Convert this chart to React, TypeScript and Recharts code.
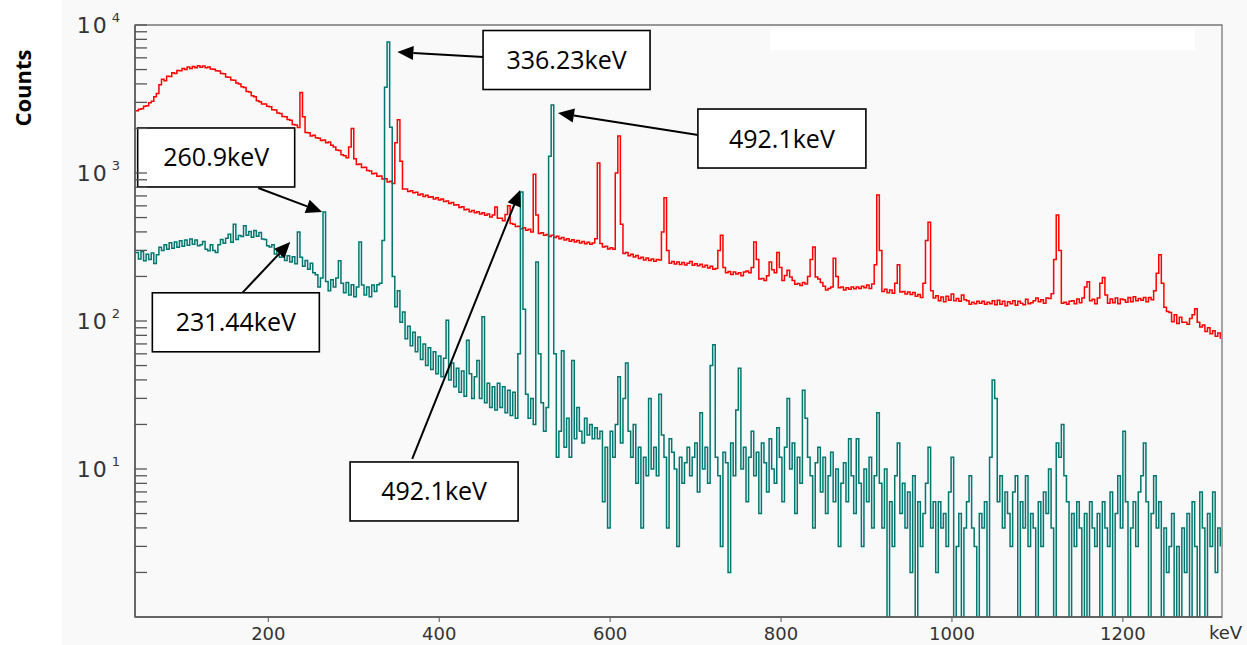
import { LineChart, Line, XAxis, YAxis, ReferenceArea, ReferenceLine, ReferenceDot } from 'recharts';

// channel calibration: first channel energy and width (keV)
const KEV_START = 45;
const KEV_STEP = 3;

// red spectrum, counts per channel
const redCounts = [
  2630, 2700, 2720, 2820, 2850, 2980, 3050, 3280, 3450, 3950,
  4300, 4200, 4500, 4480, 4750, 4700, 4920, 4900, 5080, 5000,
  5200, 5080, 5250, 5150, 5300, 5180, 5280, 5150, 5200, 5050,
  5020, 4900, 4880, 4700, 4680, 4450, 4430, 4250, 4230, 4050,
  4000, 3820, 3780, 3560, 3530, 3320, 3280, 3080, 3030, 2920,
  2930, 2820, 2800, 2680, 2670, 2540, 2520, 2410, 2400, 2300,
  2270, 2130, 2110, 2030, 3500, 2400, 1880, 1870, 1780, 1800,
  1730, 1720, 1660, 1670, 1600, 1620, 1540, 1500, 1430, 1420,
  1330, 1310, 1270, 1500, 2000, 1250, 1140, 1150, 1090, 1095,
  1040, 1030, 990, 995, 950, 955, 910, 915, 870, 880,
  850, 1600, 2290, 1200, 780, 780, 750, 760, 735, 740,
  710, 720, 695, 708, 685, 690, 668, 680, 658, 668,
  642, 648, 622, 632, 608, 610, 585, 592, 565, 570,
  548, 558, 538, 548, 528, 538, 518, 528, 505, 520,
  590, 495, 495, 475, 525, 600, 455, 450, 435, 436,
  420, 426, 410, 416, 400, 980, 520, 390, 395, 380,
  384, 372, 380, 366, 374, 360, 366, 352, 360, 346,
  354, 342, 350, 337, 345, 333, 340, 330, 336, 360,
  1170, 334, 316, 320, 306, 313, 305, 1000, 1780, 450,
  286, 290, 276, 283, 271, 277, 264, 270, 258, 266,
  256, 262, 253, 260, 258, 400, 680, 300, 246, 252,
  243, 250, 241, 248, 239, 246, 252, 238, 244, 236,
  242, 232, 238, 228, 234, 224, 226, 300, 380, 230,
  212, 216, 206, 214, 208, 212, 202, 214, 218, 212,
  230, 342, 260, 192, 194, 188, 202, 250, 222, 212,
  290, 230, 188, 203, 220, 198, 188, 177, 179, 174,
  182, 178, 200, 260, 316, 198, 192, 182, 172, 162,
  166, 170, 265, 200, 168, 170, 162, 168, 164, 170,
  165, 170, 166, 172, 168, 175, 166, 178, 240, 710,
  300, 158, 164, 155, 162, 154, 180, 240, 157, 158,
  152, 157, 151, 156, 147, 151, 144, 180, 350, 465,
  160, 143, 148, 137, 145, 135, 147, 138, 152, 137,
  142, 136, 150, 139, 137, 130, 134, 131, 136, 132,
  136, 130, 134, 131, 137, 129, 138, 130, 136, 127,
  135, 131, 137, 128, 136, 132, 129, 140, 131, 133,
  137, 143, 135, 139, 132, 143, 142, 153, 260, 520,
  300, 132, 134, 130, 136, 137, 131, 141, 133, 143,
  170, 184, 137, 140, 131, 143, 180, 197, 150, 132,
  141, 133, 143, 131, 141, 139, 134, 144, 135, 146,
  137, 142, 138, 144, 135, 144, 139, 160, 210, 280,
  180, 124, 116, 114, 99, 110, 96, 106, 98, 98,
  95, 104, 110, 121, 98, 91, 94, 85, 90, 82,
  86, 79, 83, 76,
];

// teal spectrum, counts per channel (0 = empty channel)
const tealCounts = [
  290, 262, 295, 255, 282, 260, 288, 245, 280, 315,
  300, 328, 305, 338, 310, 342, 315, 348, 320, 352,
  325, 358, 330, 352, 322, 328, 345, 305, 298, 328,
  300, 290, 328, 355, 335, 362, 385, 340, 450, 355,
  378, 372, 440, 380, 402, 368, 408, 374, 396, 358,
  356, 322, 316, 328, 284, 306, 270, 292, 256, 276,
  250, 272, 244, 400, 270, 234, 256, 224, 246, 212,
  205, 170, 195, 545, 185, 160, 190, 170, 195, 255,
  180, 155, 182, 150, 176, 146, 170, 342, 175, 150,
  170, 146, 175, 158, 176, 180, 350, 3800, 7680, 2040,
  200, 125, 160, 98, 115, 76, 92, 68, 84, 62,
  78, 55, 70, 50, 66, 47, 62, 44, 58, 42,
  56, 101, 40, 52, 36, 48, 33, 46, 31, 74,
  44, 30, 42, 54, 30, 107, 28, 38, 26, 36,
  25, 38, 26, 36, 24, 34, 23, 33, 22, 60,
  745, 120, 32, 22, 30, 20, 250, 60, 28, 18,
  26, 1300, 2880, 60, 12, 18, 63, 14, 22, 12,
  54, 16, 26, 18, 15, 22, 17, 20, 16, 19,
  16, 18, 6, 14, 4, 18, 12, 20, 42, 15,
  30, 52, 18, 12, 20, 8, 14, 4, 12, 9,
  30, 10, 14, 9, 32, 17, 12, 4, 16, 13,
  10, 3, 12, 8, 11, 14, 9, 12, 15, 7,
  24, 10, 14, 8, 50, 69, 12, 9, 3, 13,
  11, 2, 15, 9, 25, 48, 10, 14, 6, 12,
  18, 9, 13, 5, 15, 11, 7, 16, 10, 8,
  19, 12, 6, 14, 30, 10, 15, 5, 12, 8,
  34, 22, 12, 9, 4, 11, 14, 7, 12, 5,
  9, 13, 6, 10, 3, 8, 11, 6, 16, 9,
  5, 16, 8, 3, 10, 6, 12, 4, 9, 24,
  8, 4, 10, 0, 6, 3, 9, 15, 5, 8,
  4, 7, 2, 9, 0, 6, 3, 5, 8, 14,
  4, 6, 2, 6, 4, 5, 3, 7, 12, 0,
  3, 5, 0, 4, 6, 9, 4, 3, 0, 5,
  4, 6, 0, 12, 40, 30, 6, 9, 4, 7,
  5, 3, 7, 9, 0, 6, 4, 9, 3, 5,
  4, 0, 6, 3, 7, 5, 10, 4, 0, 15,
  12, 20, 9, 6, 0, 5, 3, 6, 4, 0,
  5, 0, 6, 4, 3, 5, 0, 6, 4, 3,
  7, 0, 5, 9, 4, 18, 6, 0, 4, 6,
  3, 7, 9, 15, 6, 0, 5, 9, 4, 6,
  0, 4, 2, 3, 5, 0, 3, 0, 4, 2,
  5, 0, 6, 3, 0, 7, 4, 0, 5, 3,
  7, 2, 4, 3,
];

const xTicks = [200, 400, 600, 800, 1000, 1200];
const yTicks = [
  2, 3, 4, 5, 6, 7, 8, 9, 10,
  20, 30, 40, 50, 60, 70, 80, 90, 100,
  200, 300, 400, 500, 600, 700, 800, 900, 1000,
  2000, 3000, 4000, 5000, 6000, 7000, 8000, 9000, 10000,
];

// callouts: text, box centre (keV, counts), arrow tail and tip (keV, counts)
const calloutText = ['336.23keV', '492.1keV', '260.9keV', '231.44keV', '492.1keV'];
const calloutKeV = [549, 801, 139, 162, 394];
const calloutCounts = [5800, 1710, 1273, 98, 7.05];
const tailKeV = [451.5, 703, 188.3, 169.6, 368.4];
const tailCounts = [6080, 1806, 792, 155, 11.7];
const tipKeV = [351, 539, 263, 225.7, 494.7];
const tipCounts = [6570, 2543, 545, 342, 767];
const boxW = [167, 168, 157, 167, 168];

// log axis cannot show empty channels, push them below the axis floor
const data = redCounts.map((r, i) => ({
  kev: KEV_START + i * KEV_STEP,
  red: r,
  teal: tealCounts[i] > 0 ? tealCounts[i] : 0.5,
}));

const AXIS = '#555';
const TEXT = '#333';

function YTick({ x, y, payload }: any) {
  const v = payload.value;
  const exp = Math.round(Math.log10(v));
  const major = Math.abs(Math.pow(10, exp) - v) < 1e-6;
  return (
    <g>
      <line x1={x} y1={y} x2={x + 12} y2={y} stroke={AXIS} strokeWidth={1.3} />
      {major && (
        <text x={x - 13} y={y + 8} textAnchor="end" fill={TEXT} fontSize={22} fontFamily="DejaVu Sans" letterSpacing={2}>
          10<tspan dx={3} dy={-11} fontSize={13}>{exp}</tspan>
        </text>
      )}
    </g>
  );
}

function XTick({ x, y, payload }: any) {
  return (
    <text x={x} y={y + 18} textAnchor="middle" fill={TEXT} fontSize={18} fontFamily="DejaVu Sans">
      {payload.value}
    </text>
  );
}

function Arrow(p: any) {
  const { x1, y1, x2, y2 } = p;
  const dx = x2 - x1;
  const dy = y2 - y1;
  const len = Math.hypot(dx, dy) || 1;
  const ux = dx / len;
  const uy = dy / len;
  const bx = x2 - ux * 16;
  const by = y2 - uy * 16;
  return (
    <g>
      <line x1={x1} y1={y1} x2={bx} y2={by} stroke="#000" strokeWidth={2} />
      <polygon
        points={`${x2},${y2} ${bx - uy * 7},${by + ux * 7} ${bx + uy * 7},${by - ux * 7}`}
        fill="#000"
      />
    </g>
  );
}

export default function App() {
  return (
    <div style={{ position: 'absolute', left: 0, top: 0, width: 1247, height: 645, background: '#fff', overflow: 'hidden' }}>
      <div style={{ position: 'absolute', left: 62, top: 0, width: 1185, height: 645, background: '#f9f9f9' }} />
      <div style={{ position: 'absolute', left: 770, top: 28, width: 425, height: 22, background: '#fff' }} />
      <div
        style={{
          position: 'absolute', left: -28, top: 75, width: 100, height: 26,
          transform: 'rotate(-90deg)', textAlign: 'center',
          fontFamily: 'Open Sans', fontWeight: 700, fontSize: 22, lineHeight: '26px', color: '#000',
        }}
      >
        Counts
      </div>
      <div style={{ position: 'absolute', left: 1209, top: 622, fontFamily: 'DejaVu Sans', fontSize: 18, lineHeight: '22px', color: TEXT }}>
        keV
      </div>
      <div style={{ position: 'absolute', left: 0, top: 0 }}>
        <LineChart width={1247} height={645} data={data} margin={{ top: 25, right: 25, bottom: 0, left: 75 }}>
          <XAxis
            dataKey="kev"
            type="number"
            domain={[44, 1316]}
            allowDataOverflow
            ticks={xTicks}
            interval={0}
            height={28}
            tickSize={5}
            tickMargin={0}
            tickLine={{ stroke: AXIS }}
            axisLine={{ stroke: AXIS, strokeWidth: 1.5 }}
            tick={<XTick />}
          />
          <YAxis
            scale="log"
            type="number"
            domain={[1, 10000]}
            allowDataOverflow
            ticks={yTicks}
            interval={0}
            width={60}
            tickSize={0}
            tickMargin={0}
            tickLine={false}
            axisLine={{ stroke: AXIS, strokeWidth: 1.5 }}
            tick={<YTick />}
          />
          <ReferenceArea x1={44} x2={1316} y1={1} y2={10000} fill="none" stroke="#777" strokeWidth={1.3} />
          <Line type="stepAfter" dataKey="red" stroke="#ff0000" strokeWidth={1.5} dot={false} isAnimationActive={false} />
          <Line type="stepAfter" dataKey="teal" stroke="#00776f" strokeWidth={1.5} dot={false} isAnimationActive={false} />
          {calloutText.map((t, i) => (
            <ReferenceLine
              key={`a${i}`}
              segment={[{ x: tailKeV[i], y: tailCounts[i] }, { x: tipKeV[i], y: tipCounts[i] }]}
              shape={Arrow}
            />
          ))}
          {calloutText.map((t, i) => (
            <ReferenceDot
              key={`b${i}`}
              x={calloutKeV[i]}
              y={calloutCounts[i]}
              shape={(p: any) => (
                <g>
                  <rect x={p.cx - boxW[i] / 2} y={p.cy - 29.5} width={boxW[i]} height={59} fill="#fff" stroke="#000" strokeWidth={1.6} />
                  <text x={p.cx} y={p.cy + 9} textAnchor="middle" fontSize={25} fontFamily="Open Sans" fill="#000">
                    {t}
                  </text>
                </g>
              )}
            />
          ))}
        </LineChart>
      </div>
    </div>
  );
}
